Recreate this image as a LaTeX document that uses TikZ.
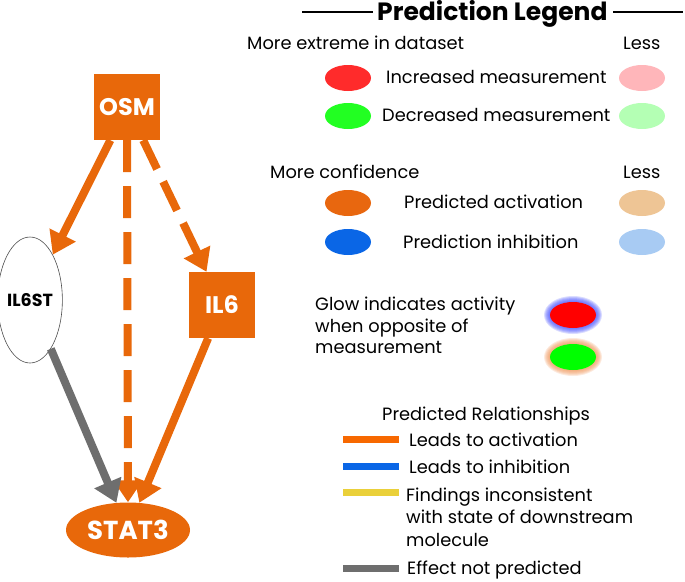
\documentclass[tikz,border=0pt]{standalone}
\usepackage{fontspec}
\setmainfont{Poppins}
\usetikzlibrary{arrows.meta,shapes.geometric,calc}
\definecolor{orn}{RGB}{232,104,10}
\definecolor{lorn}{RGB}{247,104,0}
\definecolor{gry}{RGB}{110,110,110}
\definecolor{redA}{RGB}{255,43,43}
\definecolor{redB}{RGB}{255,182,186}
\definecolor{grnA}{RGB}{34,255,34}
\definecolor{grnB}{RGB}{180,255,180}
\definecolor{ornA}{RGB}{232,103,15}
\definecolor{ornB}{RGB}{238,197,149}
\definecolor{bluA}{RGB}{10,102,230}
\definecolor{bluB}{RGB}{168,203,243}
\definecolor{ylw}{RGB}{234,208,58}
\definecolor{glowR}{RGB}{255,0,0}
\definecolor{glowG}{RGB}{0,255,0}
\definecolor{glowB}{RGB}{70,80,255}
\definecolor{glowO}{RGB}{240,150,90}
\begin{document}
\begin{tikzpicture}[x=1pt,y=-1pt,
  gene/.style={fill=orn, text=white, font=\bfseries\fontsize{24}{28}\selectfont, minimum size=66pt, inner sep=0pt},
  actarrow/.style={draw=orn, line width=8pt, line cap=butt, -{Triangle[length=22pt,width=28pt]}},
  dashseg/.style={draw=orn, line width=8pt, line cap=butt},
  greyarrow/.style={actarrow, draw=gry},
  legtext/.style={anchor=base west, inner sep=0pt, font=\fontsize{17.8}{20}\selectfont},
  swatch/.style={ellipse, minimum width=46pt, minimum height=26pt, inner sep=0pt},
  legline/.style={line width=7pt}
]
\useasboundingbox (0,0) rectangle (685,581);
% network
\node[gene] (OSM) at (127,107) {OSM};
\node[gene] (IL6) at (222,305) {IL6};
\node[ellipse, draw=black!70, line width=0.6pt, minimum width=54pt, minimum height=126pt, inner sep=0pt, font=\bfseries\fontsize{17.5}{20}\selectfont] (IL6ST) at (30,300) {IL6ST};
\node[ellipse, fill=orn, text=white, minimum width=124pt, minimum height=55pt, inner sep=0pt, font=\bfseries\fontsize{26}{30}\selectfont] (STAT3) at (128,530) {STAT3};
\draw[actarrow] (OSM) -- (IL6ST);
% dashed OSM -> IL6
\coordinate (dA) at (OSM.-64.4);
\coordinate (dB) at (IL6.115.6);
\foreach \s/\e in {0/32,46/78} {
  \draw[dashseg] ($(dA)!\s pt!(dB)$) -- ($(dA)!\e pt!(dB)$);
}
\draw[actarrow] ($(dA)!92pt!(dB)$) -- (dB);
% dashed OSM -> STAT3
\foreach \s/\e in {0/32,46/78,92/124,138/170,184/216,230/262,276/308} {
  \draw[dashseg] ($(OSM.south)!\s pt!(STAT3.north)$) -- ($(OSM.south)!\e pt!(STAT3.north)$);
}
\draw[actarrow] ($(OSM.south)!322pt!(STAT3.north)$) -- (STAT3.north);
\draw[greyarrow] (IL6ST) -- (STAT3);
\draw[actarrow] (IL6) -- (STAT3);
% legend title
\node[anchor=base west, inner sep=0pt, font=\bfseries\fontsize{25}{28}\selectfont] (title) at (377,20) {Prediction Legend};
\draw[line width=1.2pt] (302,12) -- (373,12);
\draw[line width=1.2pt] (613,12) -- (683,12);
% measurement
\node[legtext] (more1) at (247,49) {More extreme in dataset};
\node[legtext] (less1) at (623,49) {Less};
\node[swatch, fill=redA] (s1) at (348,78) {};
\node[swatch, fill=redB] (s2) at (642,78) {};
\node[legtext] (t1) at (386,83) {Increased measurement};
\node[swatch, fill=grnA] (s3) at (348,116) {};
\node[swatch, fill=grnB] (s4) at (642,116) {};
\node[legtext] (t2) at (382,121) {Decreased measurement};
% confidence
\node[legtext] (more2) at (270,178) {More confidence};
\node[legtext] (less2) at (623,178) {Less};
\node[swatch, fill=ornA] (s5) at (348,203) {};
\node[swatch, fill=ornB] (s6) at (642,203) {};
\node[legtext] (t3) at (404,208) {Predicted activation};
\node[swatch, fill=bluA] (s7) at (348,242) {};
\node[swatch, fill=bluB] (s8) at (642,242) {};
\node[legtext] (t4) at (403,248) {Prediction inhibition};
% glow
\node[legtext] (g1) at (315,310) {Glow indicates activity};
\node[legtext] (g2) at (315,332) {when opposite of};
\node[legtext] (g3) at (315,353) {measurement};
\foreach \i in {6,5,4,3,2,1} {
  \fill[glowB, opacity=0.2] (573,315) ellipse ({23+\i} and {13+\i});
  \fill[glowO, opacity=0.2] (573,357) ellipse ({23+\i} and {13+\i});
}
\node[swatch, fill=glowR] (s9) at (573,315) {};
\node[swatch, fill=glowG] (s10) at (573,357) {};
% relationships
\node[legtext] (rel) at (382,420) {Predicted Relationships};
\draw[legline, lorn] (343,439) -- (399,439);
\node[legtext] (r1) at (409,446) {Leads to activation};
\draw[legline, bluA] (343,466) -- (399,466);
\node[legtext] (r2) at (409,473) {Leads to inhibition};
\draw[legline, ylw] (343,492) -- (399,492);
\node[legtext] (r3a) at (406,501) {Findings inconsistent};
\node[legtext] (r3b) at (406,523) {with state of downstream};
\node[legtext] (r3c) at (406,546) {molecule};
\draw[legline, gry] (343,568) -- (399,568);
\node[legtext] (r4) at (407,574) {Effect not predicted};
\end{tikzpicture}
\end{document}
